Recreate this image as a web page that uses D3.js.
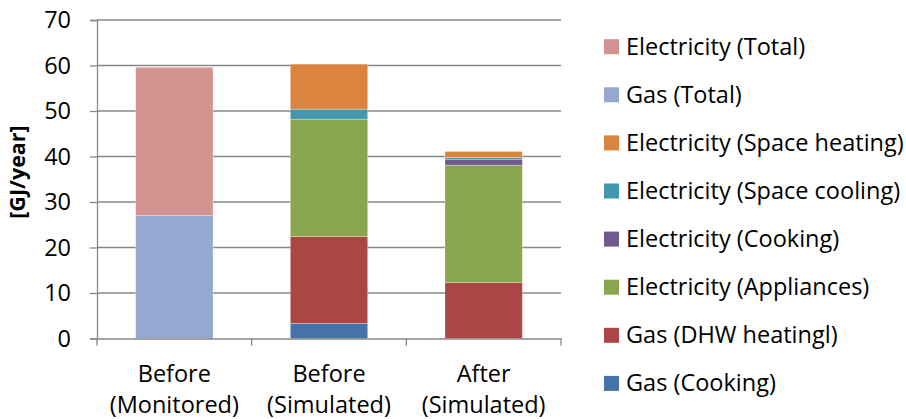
<!DOCTYPE html>
<html><head><meta charset="utf-8">
<script src="https://cdn.jsdelivr.net/npm/d3@7"></script>
<style>body{margin:0;background:#fff}svg{display:block}text{font-family:"Open Sans",sans-serif;fill:#000}</style>
</head><body><svg id="c" width="906" height="419"></svg>
<script>
const categories = ["Before\n(Monitored)", "Before\n(Simulated)", "After\n(Simulated)"];
// stack order bottom -> top
const seriesNames = ["Gas (Cooking)", "Gas (DHW heatingl)", "Electricity (Appliances)", "Electricity (Cooking)",
  "Electricity (Space cooling)", "Electricity (Space heating)", "Gas (Total)", "Electricity (Total)"];
const gasCooking = [0, 3.3, 0];
const gasDHW = [0, 19.1, 12.3];
const elecAppliances = [0, 25.8, 25.8];
const elecCooking = [0, 0, 1.3];
const elecCooling = [0, 2.2, 0.4];
const elecHeating = [0, 9.9, 1.3];
const gasTotal = [27.0, 0, 0];
const elecTotal = [32.6, 0, 0];
const seriesColors = ["#4572A7", "#AA4643", "#89A54E", "#71588F", "#4198AF", "#DB843D", "#95A9D0", "#D39391"];
const yTicks = [0, 10, 20, 30, 40, 50, 60, 70];

const seriesValues = [gasCooking, gasDHW, elecAppliances, elecCooking, elecCooling, elecHeating, gasTotal, elecTotal];
const rows = categories.map((c, i) => {
  const r = {cat: c};
  seriesNames.forEach((s, j) => r[s] = seriesValues[j][i]);
  return r;
});
const stacked = d3.stack().keys(seriesNames)(rows);

const svg = d3.select("#c");
const L = 97, R = 561, T = 20, B = 338.5;
const FS = 23.5;
const x = d3.scaleBand().domain(categories).range([L, R]).paddingInner(0.5).paddingOuter(0.25);
const y = d3.scaleLinear().domain([0, 70]).range([B, T]);
const grey = "#878787";

// gridlines
svg.append("g").selectAll("line").data(yTicks.filter(d => d > 0)).join("line")
  .attr("x1", L).attr("x2", R).attr("y1", d => y(d)).attr("y2", d => y(d))
  .attr("stroke", grey).attr("stroke-width", 1.3);

// bars
const color = d3.scaleOrdinal().domain(seriesNames).range(seriesColors);
svg.append("g").selectAll("g").data(stacked).join("g")
  .attr("fill", d => color(d.key))
  .selectAll("rect").data(d => d.filter(p => p[1] - p[0] > 0)).join("rect")
  .attr("x", d => x(d.data.cat)).attr("width", x.bandwidth())
  .attr("y", d => y(d[1])).attr("height", d => y(d[0]) - y(d[1]))
  .attr("stroke", "rgba(255,255,255,0.35)").attr("stroke-width", 0.8);

// y axis
const yAxis = svg.append("g").attr("transform", `translate(${L},0)`)
  .call(d3.axisLeft(y).tickValues(yTicks).tickSize(7).tickPadding(19));
yAxis.select(".domain").attr("stroke", grey).attr("stroke-width", 1.3);
yAxis.selectAll(".tick line").attr("stroke", grey).attr("stroke-width", 1.3);
yAxis.selectAll(".tick text").attr("font-size", FS).attr("font-family", "Open Sans").attr("fill", "#000");

// x axis
const xAxis = svg.append("g").attr("transform", `translate(0,${B})`)
  .call(d3.axisBottom(x).tickSize(0).tickFormat(""));
xAxis.select(".domain").attr("stroke", grey).attr("stroke-width", 1.3);
const bounds = [L, ...categories.slice(1).map(c => x(c) - x.step() * x.paddingInner() / 2), R];
xAxis.selectAll(".sep").data(bounds).join("line").attr("class", "sep")
  .attr("x1", d => d).attr("x2", d => d).attr("y1", 0).attr("y2", 7)
  .attr("stroke", grey).attr("stroke-width", 1.3);
const xl = svg.append("g").selectAll("text").data(categories).join("text")
  .attr("text-anchor", "middle").attr("font-size", FS)
  .attr("x", d => x(d) + x.bandwidth() / 2).attr("y", 382);
xl.selectAll("tspan").data(d => d.split("\n")).join("tspan")
  .attr("x", function() { return this.parentNode.getAttribute("x"); })
  .attr("dy", (d, i) => i === 0 ? 0 : 31).text(d => d);

// y title
svg.append("text").attr("transform", "translate(25,172) rotate(-90)")
  .attr("text-anchor", "middle").attr("font-size", 21.5).attr("font-weight", "bold").text("[GJ/year]");

// legend (reverse order)
const legendItems = seriesNames.slice().reverse();
const lg = svg.append("g").selectAll("g").data(legendItems).join("g")
  .attr("transform", (d, i) => `translate(604,${46.7 + i * 48.1})`);
lg.append("rect").attr("x", 0).attr("y", -7.5).attr("width", 15).attr("height", 15).attr("fill", d => color(d));
lg.append("text").attr("x", 22).attr("y", 8).attr("font-size", FS).text(d => d);
</script></body></html>
